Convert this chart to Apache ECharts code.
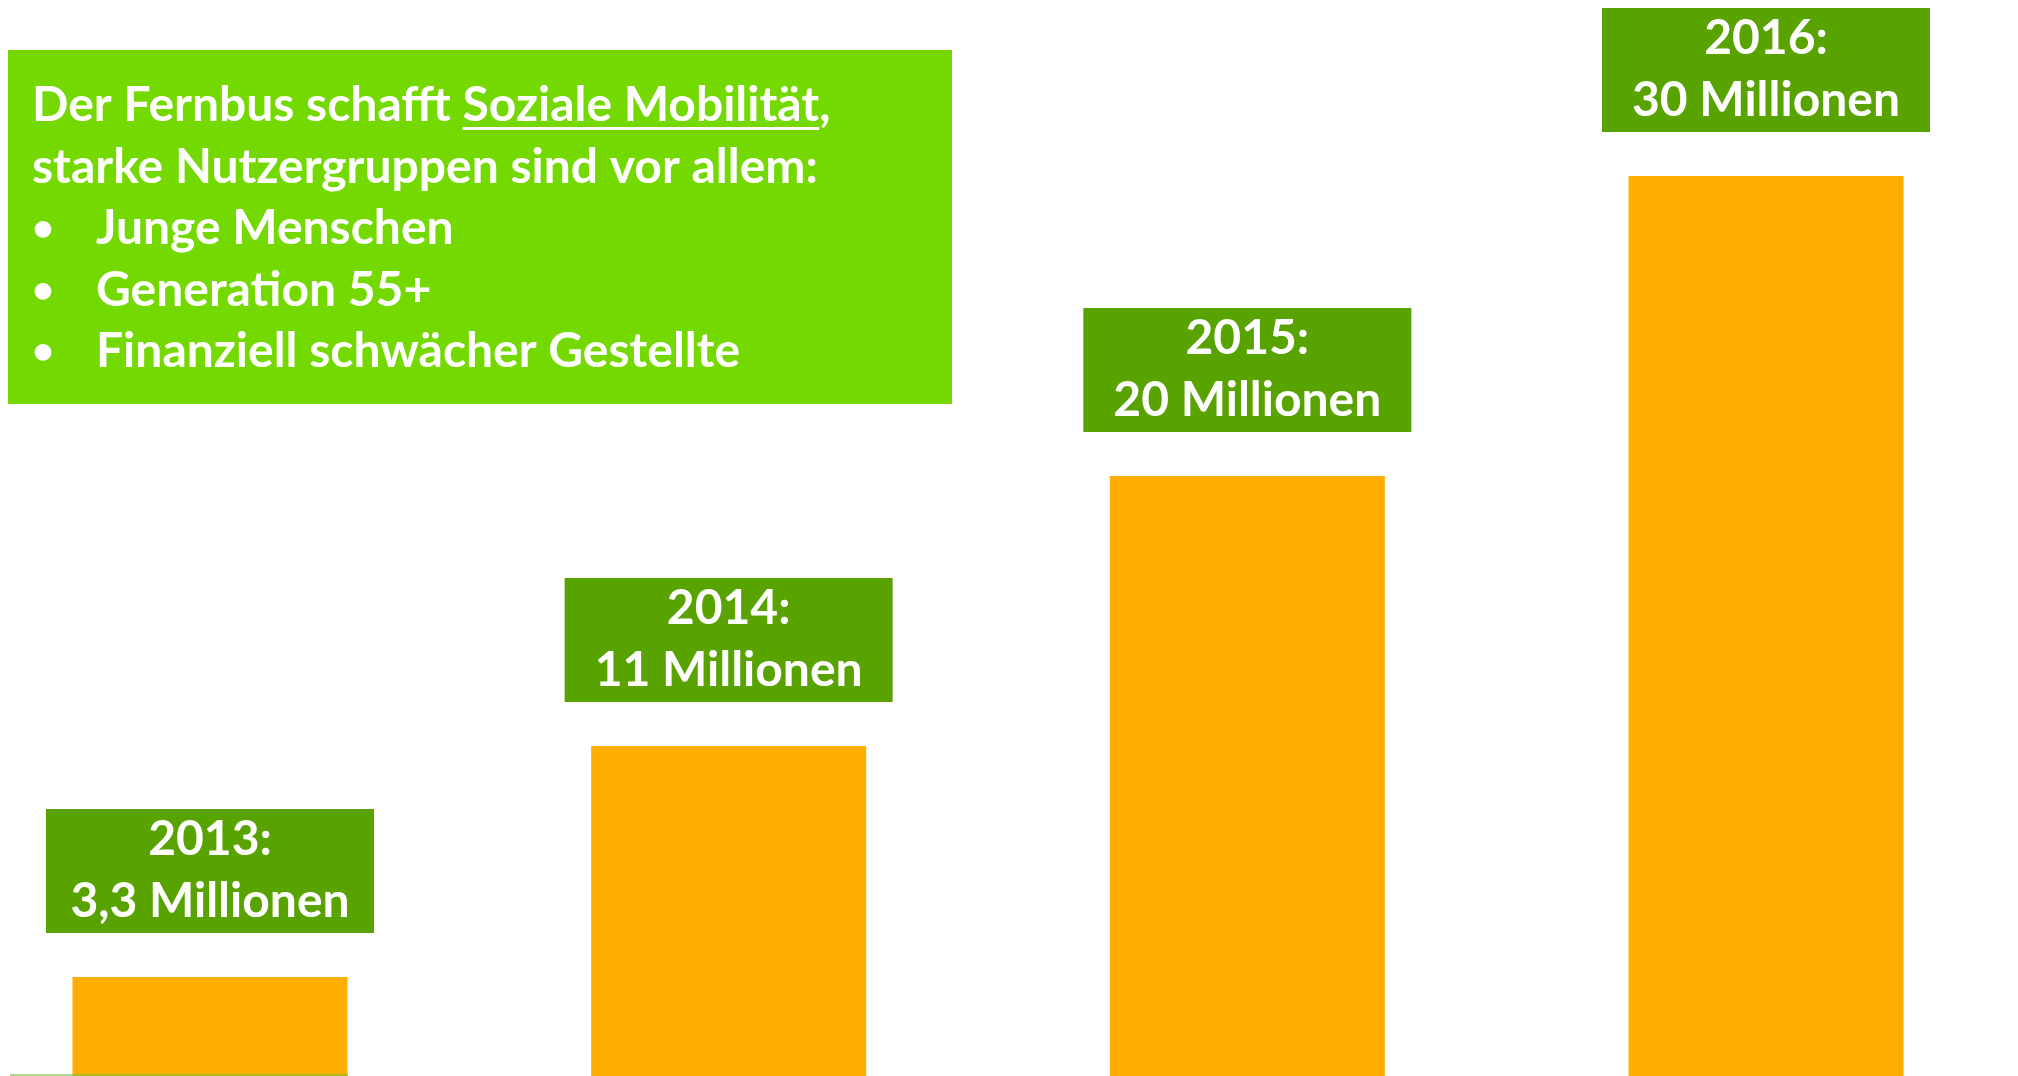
<!DOCTYPE html>
<html>
    <head>
        <meta charset="utf-8"/>
        <title>Fernbus</title>
        <script src="https://cdn.jsdelivr.net/npm/echarts@6/dist/echarts.min.js"></script>
        <style>
            html, body { margin: 0; padding: 0; background: #fff; }
        </style>
    </head>
    <body>
        <div id="main" style="width: 2018px;height:1076px;"></div>

        <script type="text/javascript">
            // Fahrgäste in Millionen
            var years = ['2013', '2014', '2015', '2016'];
            var values = [3.3, 11, 20, 30];
            var valueTexts = ['3,3', '11', '20', '30'];

            var headLine1 = ['Der Fernbus schafft ', 'Soziale Mobilität', ','];
            var headLine2 = 'starke Nutzergruppen sind vor allem:';
            var bullets = ['Junge Menschen', 'Generation 55+', 'Finanziell schwächer Gestellte'];

            var FONT = 'Lato';
            var FS = 48;

            // Breite messen für die Unterstreichung
            var ctx = document.createElement('canvas').getContext('2d');
            ctx.font = 'bold ' + FS + 'px ' + FONT;
            var ulStart = 32 + ctx.measureText(headLine1[0]).width;
            var ulWidth = ctx.measureText(headLine1[1]).width;

            var chartDom = document.getElementById('main');
            var myChart = echarts.init(chartDom);

            var txtStyle = function (text, x, y, size) {
                return {
                    type: 'text',
                    left: x,
                    top: y,
                    style: {
                        text: text,
                        fill: '#fff',
                        font: 'bold ' + (size || FS) + 'px ' + FONT
                    },
                    z: 10
                };
            };

            var graphics = [
                {
                    type: 'rect',
                    shape: { x: 8, y: 50, width: 944, height: 354 },
                    style: { fill: '#73d900' },
                    z: 5
                },
                txtStyle(headLine1.join(''), 32, 82),
                {
                    type: 'rect',
                    shape: { x: ulStart, y: 127, width: ulWidth, height: 3 },
                    style: { fill: '#fff' },
                    z: 10
                },
                txtStyle(headLine2, 32, 144),
                {
                    type: 'line',
                    shape: { x1: 10, y1: 1075, x2: 348, y2: 1075 },
                    style: { stroke: 'rgba(120,190,60,0.6)', lineWidth: 2 },
                    z: 10
                }
            ];
            bullets.forEach(function (b, i) {
                var y = 205 + i * 61.5;
                graphics.push(txtStyle('•', 32, y + 5, 38));
                graphics.push(txtStyle(b, 96, y));
            });

            var option = {
                animation: false,
                grid: { left: 210, right: 252, top: 26, bottom: 0 },
                xAxis: {
                    type: 'category',
                    data: years,
                    boundaryGap: false,
                    axisLine: { show: false },
                    axisTick: { show: false },
                    axisLabel: { show: false },
                    splitLine: { show: false }
                },
                yAxis: {
                    type: 'value',
                    min: 0,
                    max: 35,
                    show: false,
                    splitLine: { show: false }
                },
                graphic: graphics,
                series: [{
                    type: 'bar',
                    data: values,
                    barWidth: 275,
                    itemStyle: { color: '#ffad00' },
                    label: {
                        show: true,
                        position: 'top',
                        distance: 44,
                        width: 328,
                        height: 122,
                        padding: [2, 0, 0, 0],
                        align: 'center',
                        backgroundColor: '#58a300',
                        color: '#fff',
                        fontFamily: FONT,
                        fontWeight: 'bold',
                        fontSize: FS,
                        lineHeight: 62,
                        formatter: function (p) {
                            return years[p.dataIndex] + ':\n' + valueTexts[p.dataIndex] + ' Millionen';
                        }
                    }
                }]
            };

            myChart.setOption(option);
        </script>
    </body>
</html>
